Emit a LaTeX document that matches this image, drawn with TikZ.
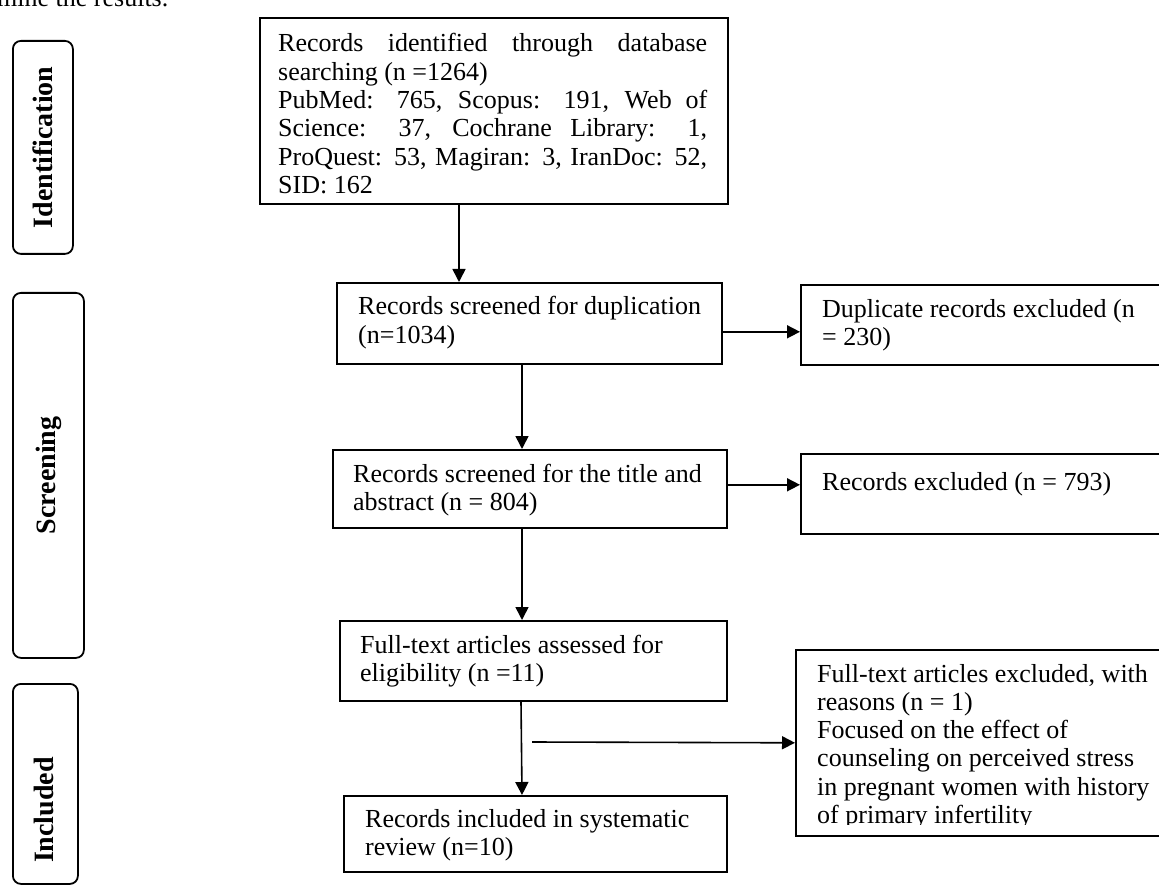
\documentclass[tikz,border=0pt]{standalone}
\usepackage{fontspec}
\setmainfont{Liberation Serif}
\usetikzlibrary{arrows.meta}
\newcommand\mytxt[2]{\parbox[t]{#1}{\tolerance=9999\hbadness=10000\fontsize{26}{28.3}\selectfont #2}}
\newcommand\myrag[1]{\parbox[t]{420pt}{\raggedright\fontsize{26}{28.3}\selectfont #1}}
\begin{document}
\begin{tikzpicture}[x=1pt,y=-1pt,
  box/.style={draw, line width=1.6pt, anchor=north west, inner sep=0pt},
  side/.style={draw, line width=1.8pt, rounded corners=8pt, anchor=north west, inner sep=0pt},
  txt/.style={anchor=base west, inner sep=0pt},
  vlab/.style={rotate=90, font=\fontsize{28}{30}\selectfont\bfseries, inner sep=0pt},
  arr/.style={line width=1.6pt, -{Triangle[length=13pt,width=13pt]}}]
\useasboundingbox (0,0) rectangle (1159,885);

% cut-off text at top
\node[txt] (top) at (-3,7) {\fontsize{26}{28}\selectfont mine the results.};

% side labels
\node[side, minimum width=60pt, minimum height=213pt] (sid) at (12,40) {};
\node[vlab] (lid) at (sid.center) {Identification};
\node[side, minimum width=71pt, minimum height=365pt] (sscr) at (12,292) {};
\node[vlab] (lscr) at (sscr.center) {Screening};
\node[side, minimum width=65pt, minimum height=200pt] (sinc) at (12,683) {};
\node[vlab] (linc) at (44,810) {Included};

% boxes
\node[box, minimum width=468pt, minimum height=186pt] (b1) at (259,17) {};
\node[txt] (t1) at (278,52) {\mytxt{429pt}{Records identified through database\linebreak searching (n =1264)\newline PubMed: 765, Scopus: 191, Web of\linebreak Science: 37, Cochrane Library: 1,\linebreak ProQuest: 53, Magiran: 3, IranDoc: 52,\linebreak SID: 162}};

\node[box, minimum width=385pt, minimum height=81pt] (b2) at (336,282) {};
\begin{scope}
\clip (336,282) rectangle (721,352);
\node[txt] (t2) at (358,315) {\myrag{Records screened for duplication\\(n=1034)}};
\end{scope}

\node[box, minimum width=359pt, minimum height=80pt] (dup) at (800,284) {};
\begin{scope}
\clip (800,284) rectangle (1159,352);
\node[txt] (tdup) at (822,317) {\myrag{Duplicate records excluded (n\\= 230)}};
\end{scope}

\node[box, minimum width=394pt, minimum height=78pt] (b3) at (332,449) {};
\node[txt] (t3) at (353,482) {\myrag{Records screened for the title and\\abstract (n = 804)}};

\node[box, minimum width=359pt, minimum height=80pt] (excl) at (800,453) {};
\node[txt] (texcl) at (822,490) {\myrag{Records excluded (n = 793)}};

\node[box, minimum width=387pt, minimum height=80pt] (b4) at (339,620) {};
\node[txt] (t4) at (360,653) {\myrag{Full-text articles assessed for\\eligibility (n =11)}};

\node[box, minimum width=364pt, minimum height=186pt] (excl2) at (795,649) {};
\begin{scope}
\clip (795,649) rectangle (1159,824);
\node[txt] (texcl2) at (817,682) {\myrag{Full-text articles excluded, with\\reasons (n = 1)\\Focused on the effect of\\counseling on perceived stress\\in pregnant women with history\\of primary infertility}};
\end{scope}

\node[box, minimum width=383pt, minimum height=76pt] (b5) at (343,795) {};
\node[txt] (t5) at (365,827) {\myrag{Records included in systematic\\review (n=10)}};

% connectors
\draw[arr] ([xshift=200pt]b1.south west) -- ([xshift=200pt]b1.south west |- b2.north);
\draw[arr] ([yshift=-8.5pt]b2.east) -- ([yshift=-8.5pt]b2.east -| dup.west);
\draw[arr] ([xshift=186pt]b2.south west) -- ([xshift=186pt]b2.south west |- b3.north);
\draw[arr] ([yshift=4pt]b3.east) -- ([yshift=4pt]b3.east -| excl.west);
\draw[arr] ([xshift=190pt]b3.south west) -- ([xshift=190pt]b3.south west |- b4.north);
\draw[arr] ([xshift=182pt]b4.south west) -- ([xshift=179pt]b5.north west);
\coordinate (c7) at (532,742);
\draw[arr] (c7) -- (excl2.west);
\end{tikzpicture}
\end{document}
